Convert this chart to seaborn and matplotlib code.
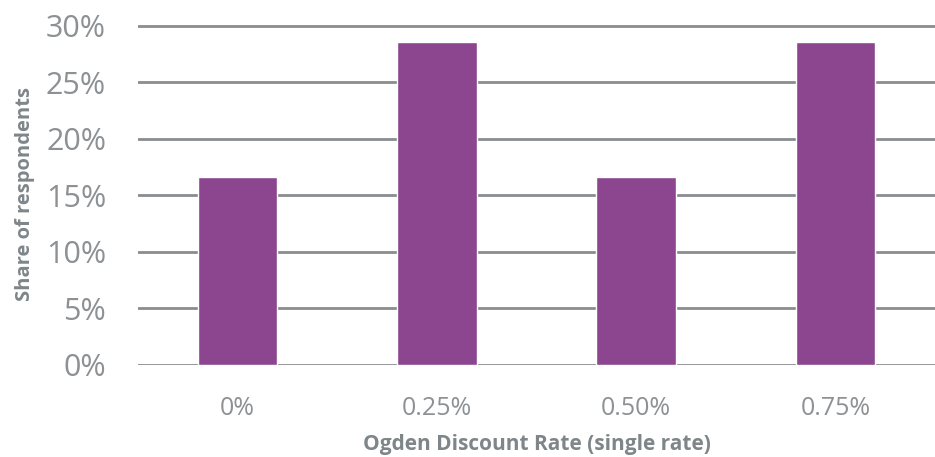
import seaborn as sns
import matplotlib.pyplot as plt
import pandas as pd

rates = ['0%', '0.25%', '0.50%', '0.75%']
share = [16.6, 28.6, 16.6, 28.6]
yticks = [0, 5, 10, 15, 20, 25, 30]

dados = pd.DataFrame({'rate': rates, 'share': share})

sns.set_theme(style='white')
plt.rcParams['font.family'] = ['Open Sans', 'DejaVu Sans']

fig = plt.figure(figsize=(9.35, 4.57), dpi=100)
ax = fig.add_axes([138 / 935, 1 - 365 / 457, 1 - 138 / 935, (365 - 22.6) / 457])

sns.barplot(data=dados, x='rate', y='share', color='#8C4690', width=0.4,
            saturation=1, ax=ax, zorder=3)

ax.set_ylim(0, 30.3)
ax.set_yticks(yticks)
ax.set_yticklabels([f'{v}%' for v in yticks])
ax.yaxis.grid(True, color='#8a8d8f', linewidth=2, zorder=0)
ax.set_axisbelow(True)
for s in ax.spines.values():
    s.set_visible(False)

ax.tick_params(axis='y', length=0, pad=23, labelsize=22, labelcolor='#8d9194')
ax.tick_params(axis='x', length=0, pad=22, labelsize=18, labelcolor='#8d9194')

ax.set_xlabel('Ogden Discount Rate (single rate)', fontsize=15, fontweight='bold',
              color='#7f8689', labelpad=10)
ax.set_ylabel('Share of respondents', fontsize=14.5, fontweight='bold',
              color='#7f8689', labelpad=8)

fig.savefig('out.png', dpi=100)
